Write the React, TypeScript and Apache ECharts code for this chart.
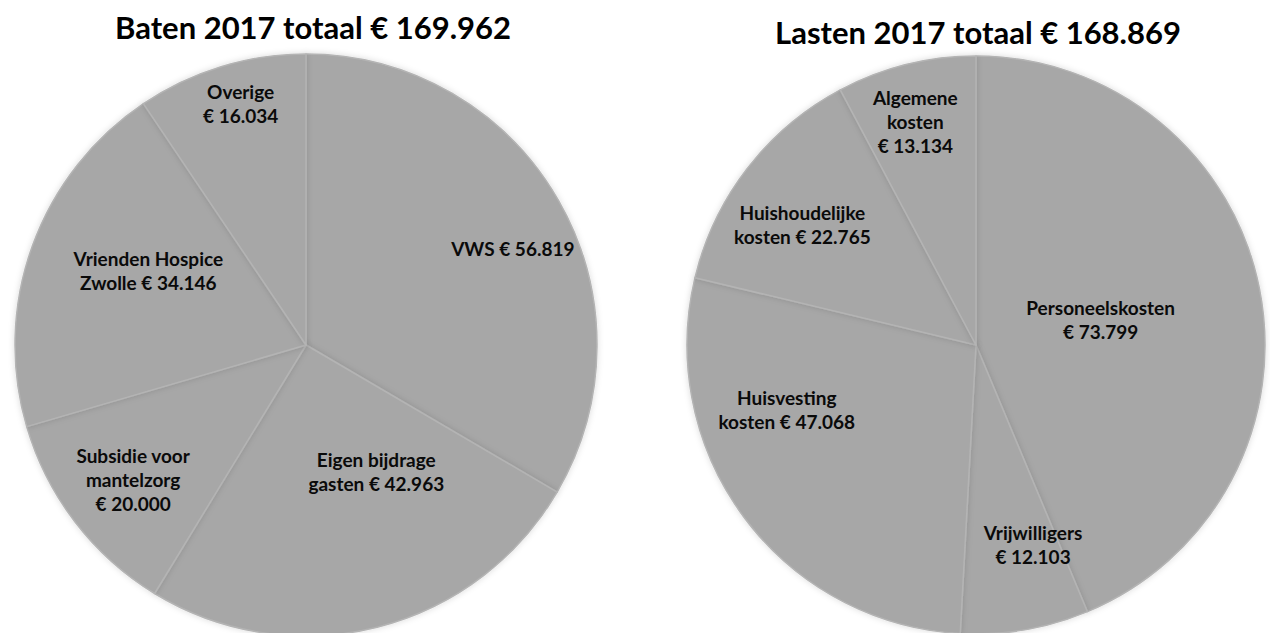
import React, { useEffect, useRef } from "react";
import * as echarts from "echarts";

const batenTitle = "Baten 2017 totaal € 169.962";
const lastenTitle = "Lasten 2017 totaal € 168.869";

const batenNames = ["VWS", "Eigen bijdrage\ngasten", "Subsidie voor\nmantelzorg", "Vrienden Hospice\nZwolle", "Overige"];
const batenValues = [56819, 42963, 20000, 34146, 16034];
const batenValueOnNewLine = [false, false, true, false, true];

const lastenNames = ["Personeelskosten", "Vrijwilligers", "Huisvesting\nkosten", "Huishoudelijke\nkosten", "Algemene\nkosten"];
const lastenValues = [73799, 12103, 47068, 22765, 13134];
const lastenValueOnNewLine = [true, true, false, false, true];

// label nudges (style only), relative to the library's inside position
const batenNudge = [[78, -23], [34, -17], [-55, 44], [-18, -24], [-22, -99]];
const lastenNudge = [[-20, 3], [32, 54], [-71, -24], [-57, -30], [-25, -80]];

const fmt = (v: number) => "€ " + v.toLocaleString("nl-NL");

function makeSeries(names: string[], values: number[], newLine: boolean[], nudge: number[][], center: number[], radius: number) {
  return {
    type: "pie",
    center,
    radius,
    startAngle: 90,
    clockwise: true,
    silent: true,
    emphasis: { disabled: true },
    itemStyle: {
      color: "#a7a7a7",
      borderColor: "#b4b4b4",
      borderWidth: 1.5,
      shadowBlur: 6,
      shadowColor: "rgba(0,0,0,0.15)",
    },
    label: {
      show: true,
      position: "inside",
      color: "#0a0a0a",
      fontFamily: "Lato, 'Open Sans', sans-serif",
      fontWeight: "bold",
      fontSize: 19,
      lineHeight: 24,
      align: "center",
      formatter: (p: any) => names[p.dataIndex] + (newLine[p.dataIndex] ? "\n" : " ") + fmt(values[p.dataIndex]),
    },
    labelLine: { show: false },
    labelLayout: (p: any) => ({ dx: nudge[p.dataIndex][0], dy: nudge[p.dataIndex][1] }),
    data: names.map((n, i) => ({ name: n, value: values[i] })),
  };
}

export default function App() {
  const ref = useRef<HTMLDivElement>(null);
  useEffect(() => {
    document.body.style.margin = "0";
    const chart = echarts.init(ref.current!, null, { renderer: "svg" });
    chart.setOption({
      animation: false,
      backgroundColor: "#ffffff",
      graphic: [
        {
          type: "text",
          x: 313,
          y: 27,
          style: {
            text: batenTitle,
            textAlign: "center",
            textVerticalAlign: "middle",
            font: "bold 31px Lato, 'Open Sans', sans-serif",
            fill: "#000",
          },
        },
        {
          type: "text",
          x: 978,
          y: 32,
          style: {
            text: lastenTitle,
            textAlign: "center",
            textVerticalAlign: "middle",
            font: "bold 31px Lato, 'Open Sans', sans-serif",
            fill: "#000",
          },
        },
      ],
      series: [
        makeSeries(batenNames, batenValues, batenValueOnNewLine, batenNudge, [306, 345], 291),
        makeSeries(lastenNames, lastenValues, lastenValueOnNewLine, lastenNudge, [976, 345], 289),
      ],
    });
    return () => chart.dispose();
  }, []);
  return <div ref={ref} style={{ width: 1270, height: 633 }} />;
}
